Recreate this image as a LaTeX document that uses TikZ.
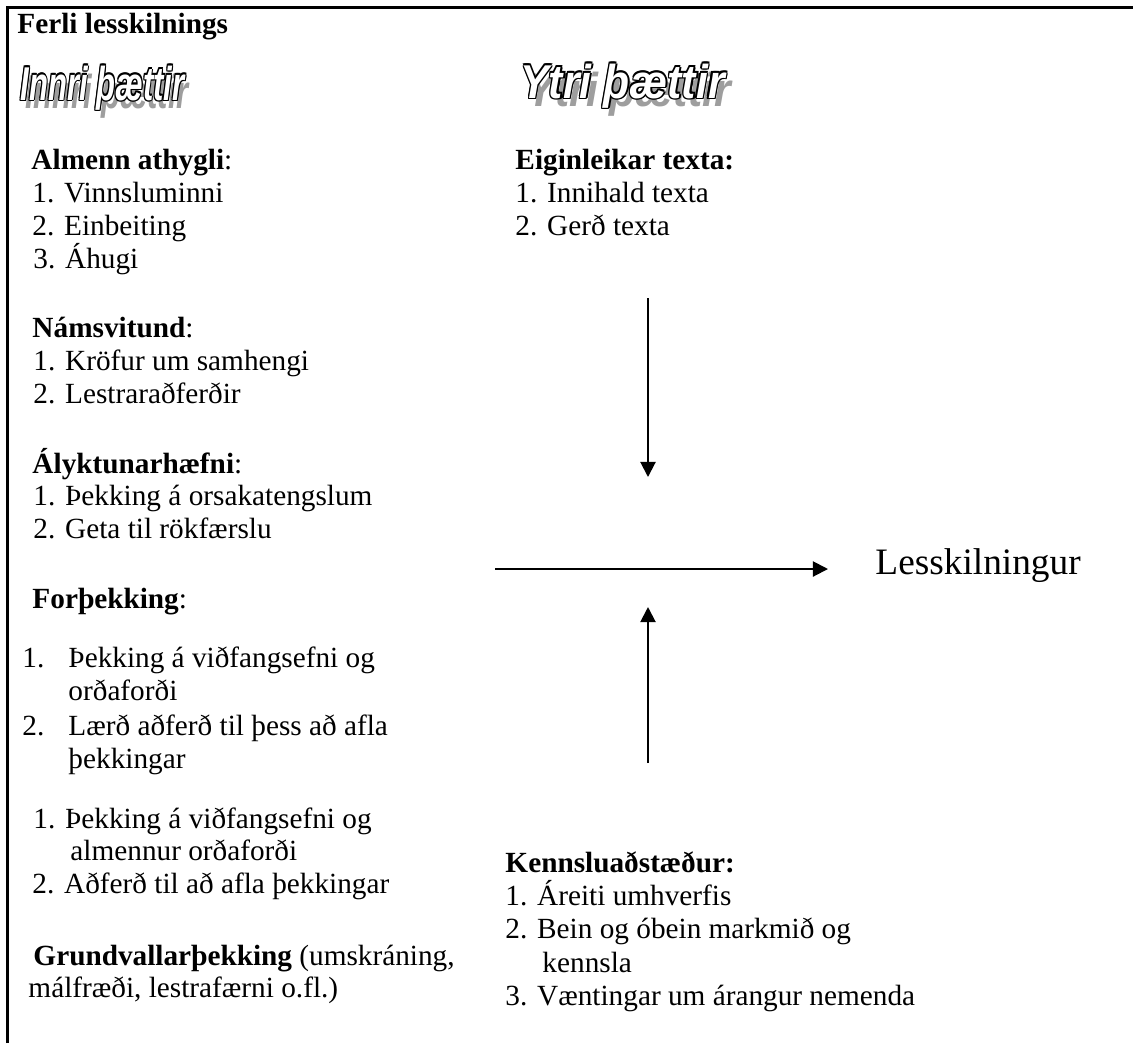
\documentclass[tikz,border=0pt]{standalone}
\usepackage{fontspec}
\setmainfont{Liberation Serif}
\newfontfamily\artfont{Liberation Sans}
\usepackage{graphicx}
\usetikzlibrary{arrows.meta}

\definecolor{shadowgray}{gray}{0.62}

% outlined italic heading with a grey shadow
\newcommand{\arttext}[2]{\scalebox{#1}[1.1]{\artfont\bfseries\itshape\fontsize{17.7}{20}\selectfont
\rlap{\hspace{2.6pt}\raisebox{-3.2pt}{\textcolor{shadowgray}{#2}}}%
\rlap{\hspace{0.6pt}#2}\rlap{\hspace{-0.6pt}#2}%
\rlap{\raisebox{0.6pt}{#2}}\rlap{\raisebox{-0.6pt}{#2}}%
\rlap{\hspace{0.45pt}\raisebox{0.45pt}{#2}}\rlap{\hspace{-0.45pt}\raisebox{0.45pt}{#2}}%
\rlap{\hspace{0.45pt}\raisebox{-0.45pt}{#2}}\rlap{\hspace{-0.45pt}\raisebox{-0.45pt}{#2}}%
\textcolor{white}{#2}}}

\begin{document}
\begin{tikzpicture}[x=0.41pt,y=0.41pt]
\tikzstyle{every node}+=[inner sep=0pt]
\tikzstyle{txt}=[anchor=base west,font=\fontsize{12}{14}\selectfont]
\tikzstyle{head}=[txt,font=\fontsize{12}{14}\selectfont\bfseries]
\tikzstyle{arr}=[line width=0.82pt,-{Triangle[length=6.2pt,width=6.2pt]}]
\useasboundingbox (0,0) rectangle (1133,-1043);
\draw [line width=1.23pt] (7,-1043) -- (7,-7) -- (1133,-7);
\node [head] (ferli) at (17,-33) {Ferli lesskilnings};
\node [anchor=base west] (innri) at (20,-100) {\arttext{0.72}{Innri þættir}};
\node [anchor=base west] (ytri) at (520,-98) {\arttext{0.99}{Ytri þættir}};
% innri thaettir
\node [txt] (almenn) at (31,-169) {\textbf{Almenn athygli}:};
\node [txt] (almenn1) at (32,-202) {1. Vinnsluminni};
\node [txt] (almenn2) at (32,-235) {2. Einbeiting};
\node [txt] (almenn3) at (33,-268) {3. Áhugi};
\node [txt] (nams) at (32,-337) {\textbf{Námsvitund}:};
\node [txt] (nams1) at (33,-370) {1. Kröfur um samhengi};
\node [txt] (nams2) at (33,-403) {2. Lestraraðferðir};
\node [txt] (alykt) at (32,-473) {\textbf{Ályktunarhæfni}:};
\node [txt] (alykt1) at (33,-505) {1. Þekking á orsakatengslum};
\node [txt] (alykt2) at (33,-538) {2. Geta til rökfærslu};
\node [txt] (forth) at (32,-608) {\textbf{Forþekking}:};
\node [txt] (forth1n) at (22,-667) {1.};
\node [txt] (forth1) at (68,-667) {Þekking á viðfangsefni og};
\node [txt] (forth1b) at (68,-700) {orðaforði};
\node [txt] (forth2n) at (22,-735) {2.};
\node [txt] (forth2) at (68,-735) {Lærð aðferð til þess að afla};
\node [txt] (forth2b) at (68,-768) {þekkingar};
\node [txt] (almforth1) at (33,-828) {1. Þekking á viðfangsefni og};
\node [txt] (almforth1b) at (70,-860) {almennur orðaforði};
\node [txt] (almforth2) at (32,-893) {2. Aðferð til að afla þekkingar};
\node [txt] (grund) at (33,-965) {\textbf{Grundvallarþekking} (umskráning,};
\node [txt] (grundb) at (28,-997) {málfræði, lestrafærni o.fl.)};
% ytri thaettir
\node [head] (eigin) at (515,-169) {Eiginleikar texta:};
\node [txt] (eigin1) at (515,-202) {1. Innihald texta};
\node [txt] (eigin2) at (515,-235) {2. Gerð texta};
\node [head] (kennsla) at (505,-872) {Kennsluaðstæður:};
\node [txt] (kennsla1) at (505,-905) {1. Áreiti umhverfis};
\node [txt] (kennsla2) at (505,-938) {2. Bein og óbein markmið og};
\node [txt] (kennsla2b) at (542,-972) {kennsla};
\node [txt] (kennsla3) at (505,-1005) {3. Væntingar um árangur nemenda};
\node [anchor=base west,font=\fontsize{15.3}{18}\selectfont] (lesskiln) at (875,-574) {Lesskilningur};
% arrows
\coordinate (downstart) at (648,-298);
\coordinate (downend) at (648,-477);
\coordinate (upstart) at (648,-763);
\coordinate (upend) at (648,-607);
\coordinate (hstart) at (495,-569);
\coordinate (hend) at (828,-569);
\draw [arr] (downstart) -- (downend);
\draw [arr] (upstart) -- (upend);
\draw [arr] (hstart) -- (hend);
\end{tikzpicture}
\end{document}
